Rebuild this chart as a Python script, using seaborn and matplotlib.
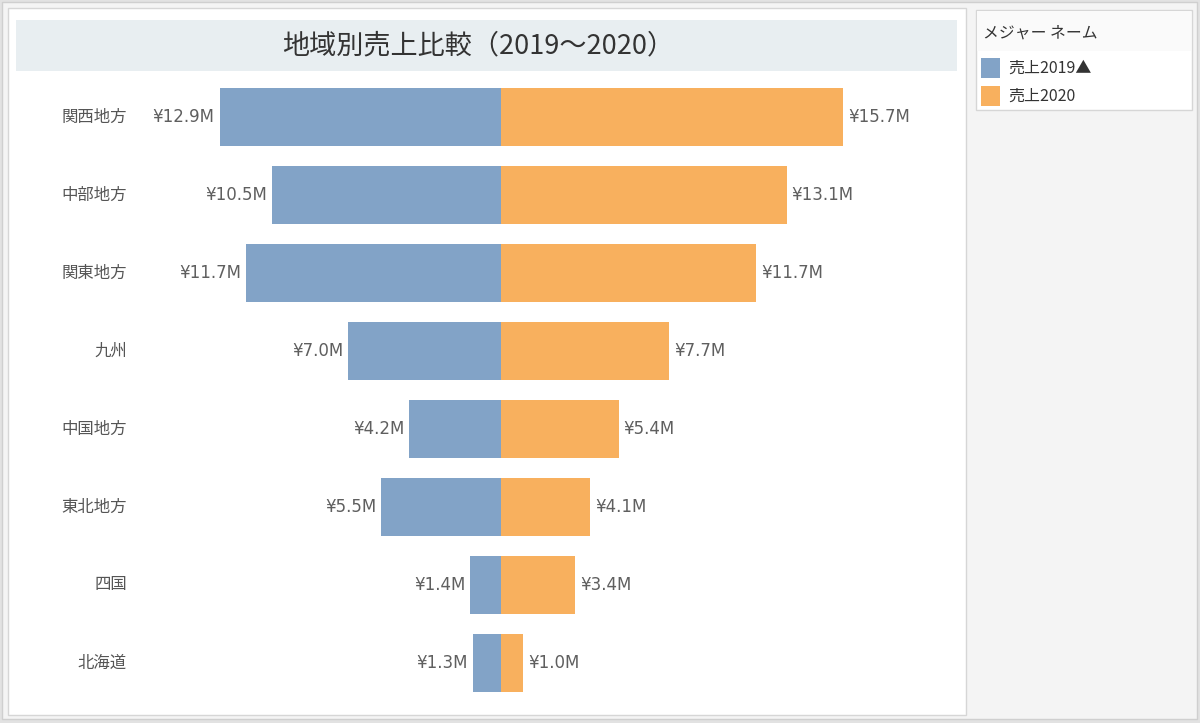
import matplotlib
matplotlib.use("Agg")
import matplotlib.pyplot as plt
import seaborn as sns
import pandas as pd
from matplotlib.patches import Rectangle

regions = ["関西地方", "中部地方", "関東地方", "九州", "中国地方", "東北地方", "四国", "北海道"]
sales_2019 = [12.9, 10.5, 11.7, 7.0, 4.2, 5.5, 1.4, 1.3]
sales_2020 = [15.7, 13.1, 11.7, 7.7, 5.4, 4.1, 3.4, 1.0]
series_names = ["売上2019▲", "売上2020"]
title_text = "地域別売上比較（2019〜2020）"
legend_title = "メジャー ネーム"

BLUE = "#82a3c7"
ORANGE = "#f8b05e"

sns.set_theme(style="white")
plt.rcParams["font.family"] = ["Noto Sans CJK JP", "DejaVu Sans"]

W, H = 1200, 723
fig = plt.figure(figsize=(W / 100, H / 100), dpi=100)
fig.patch.set_facecolor("#e2e2e2")

def px_rect(x0, y0, x1, y1, **kw):
    fig.patches.append(Rectangle((x0 / W, 1 - y1 / H), (x1 - x0) / W, (y1 - y0) / H,
                                 transform=fig.transFigure, figure=fig, **kw))

# panels
px_rect(2, 2, 1197, 719, facecolor="#f4f4f4", edgecolor="#cfcfcf", lw=1.0, zorder=0)
px_rect(8, 8, 966, 715, facecolor="white", edgecolor="#d6d6d6", lw=1.0, zorder=0)
px_rect(16, 20, 957, 71, facecolor="#e8eef1", edgecolor="none", zorder=0)
fig.text(478 / W, 1 - 46 / H, title_text, ha="center", va="center", fontsize=19.5, color="#333333")

# legend box
px_rect(976, 10, 1192, 110, facecolor="white", edgecolor="#d6d6d6", lw=1.0, zorder=0)
px_rect(977, 11, 1191, 51, facecolor="#fafafa", edgecolor="none", zorder=0)
fig.text(983 / W, 1 - 33 / H, legend_title, ha="left", va="center", fontsize=11.4, color="#333333")
for i, (name, col) in enumerate(zip(series_names, [BLUE, ORANGE])):
    yc = 68 + i * 28
    px_rect(981, yc - 10, 1000, yc + 10, facecolor=col, edgecolor="none", zorder=1)
    fig.text(1008 / W, 1 - yc / H, name, ha="left", va="center", fontsize=11.5, color="#333333")

# axes
ax_l, ax_r, ax_t, ax_b = 140, 957, 78, 702
ax = fig.add_axes([ax_l / W, 1 - ax_b / H, (ax_r - ax_l) / W, (ax_b - ax_t) / H])
ax.set_zorder(10)
ax.set_facecolor("none")

df = pd.DataFrame({"region": regions, "y2019": [-v for v in sales_2019], "y2020": sales_2020})
sns.barplot(data=df, y="region", x="y2019", orient="h", color=BLUE, saturation=1,
            width=0.745, ax=ax, order=regions, linewidth=0, edgecolor="none")
sns.barplot(data=df, y="region", x="y2020", orient="h", color=ORANGE, saturation=1,
            width=0.745, ax=ax, order=regions, linewidth=0, edgecolor="none")

pxm = 21.8
ax.set_xlim(-(501 - ax_l) / pxm, (ax_r - 501) / pxm)
ax.set_ylim(len(regions) - 0.5, -0.5)

val_font = ["DejaVu Sans"]
for i, (a, b) in enumerate(zip(sales_2019, sales_2020)):
    ax.annotate(f"¥{a:.1f}M", (-a, i), xytext=(-5, 0), textcoords="offset pixels",
                ha="right", va="center", fontsize=12, color="#5f5f5f", family=val_font)
    ax.annotate(f"¥{b:.1f}M", (b, i), xytext=(5, 0), textcoords="offset pixels",
                ha="left", va="center", fontsize=12, color="#5f5f5f", family=val_font)

ax.set_xticks([])
ax.set_yticks(range(len(regions)))
ax.set_yticklabels([])
for i, r in enumerate(regions):
    ax.annotate(r, (0, i), xycoords=("axes fraction", "data"), xytext=(-13, 0),
                textcoords="offset pixels", ha="right", va="center", fontsize=11.8, color="#555555")
ax.tick_params(left=False, bottom=False)
ax.set_xlabel("")
ax.set_ylabel("")
for s in ax.spines.values():
    s.set_visible(False)

fig.savefig("out.png", dpi=100, facecolor=fig.get_facecolor())
